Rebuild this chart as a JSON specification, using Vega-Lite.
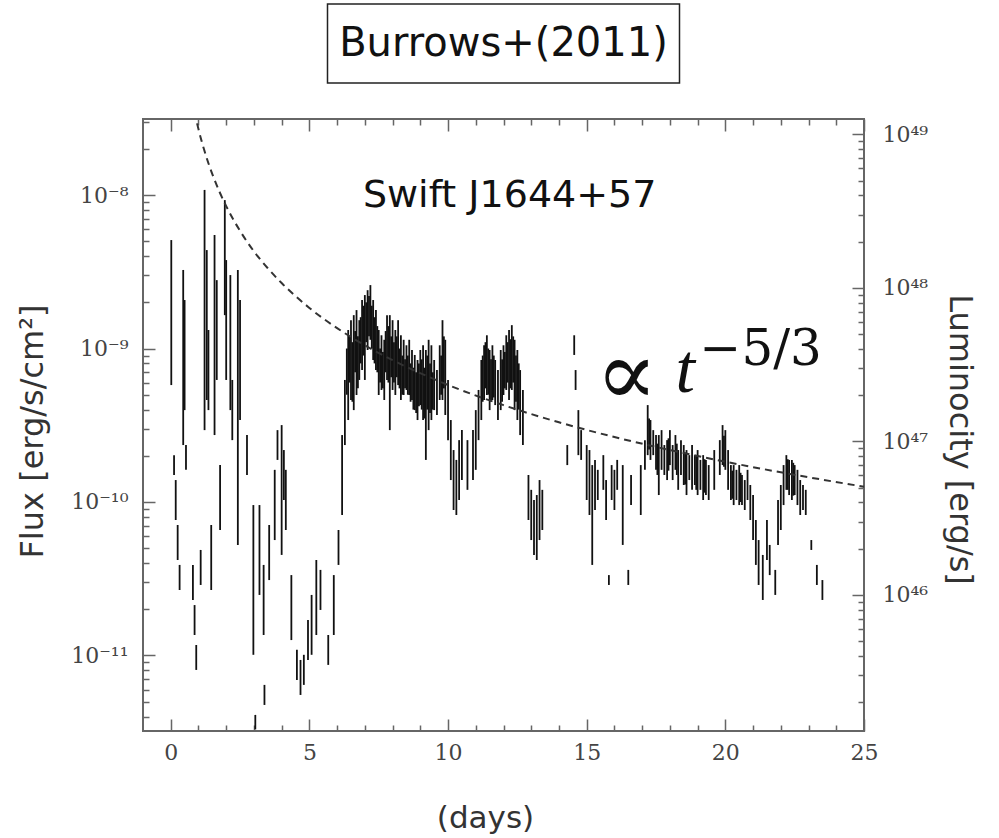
{
  "$schema": "https://vega.github.io/schema/vega-lite/v6.json",
  "padding": {"left": 15, "top": 3, "right": 5, "bottom": 5},
  "background": "white",
  "config": {"view": {"stroke": null}, "font": "DejaVu Sans"},
  "spacing": 36,
  "center": true,
  "bounds": "flush",
  "vconcat": [
    {
      "width": 352,
      "height": 79,
      "view": {"stroke": "#222", "strokeWidth": 1.5},
      "data": {"values": [{"label": "Burrows+(2011)"}]},
      "mark": {"type": "text", "font": "DejaVu Sans", "fontSize": 40, "color": "#111"},
      "encoding": {"text": {"field": "label"}}
    },
    {
      "width": 721,
      "height": 612,
      "view": {"stroke": "#666", "strokeWidth": 2},
      "resolve": {"scale": {"x": "independent", "y": "independent"}, "axis": {"x": "independent", "y": "independent"}},
      "layer": [
        {
          "data": {"values": [
            {"t":0.02,"hi":5.09e-9,"lo":5.78e-10},{"t":0.12,"hi":2.02e-10,"lo":1.5e-10},{"t":0.18,"hi":1.39e-10,"lo":7.63e-11},{"t":0.25,"hi":7.08e-11,"lo":4.19e-11},{"t":0.32,"hi":3.89e-11,"lo":2.67e-11},
            {"t":0.45,"hi":3.25e-9,"lo":2.35e-10},{"t":0.5,"hi":2.07e-9,"lo":3.97e-10},{"t":0.55,"hi":2.35e-10,"lo":1.62e-10},{"t":0.8,"hi":3.89e-11,"lo":2.3e-11},{"t":0.86,"hi":2.13e-11,"lo":1.36e-11},
            {"t":0.92,"hi":1.17e-11,"lo":8.05e-12},{"t":1.08,"hi":4.87e-11,"lo":2.88e-11},{"t":1.22,"hi":1.08e-8,"lo":2.94e-10},{"t":1.3,"hi":4.38e-9,"lo":4.62e-10},{"t":1.36,"hi":1.32e-9,"lo":3.97e-10},
            {"t":1.46,"hi":7.08e-11,"lo":2.67e-11},{"t":1.58,"hi":5.49e-9,"lo":2.73e-10},{"t":1.66,"hi":2.79e-9,"lo":6.24e-10},{"t":1.78,"hi":1.74e-10,"lo":6.57e-11},{"t":1.95,"hi":9.27e-9,"lo":1.65e-9},
            {"t":2.0,"hi":3.77e-9,"lo":6.24e-10},{"t":2.15,"hi":3.01e-9,"lo":3.97e-10},{"t":2.22,"hi":6.24e-10,"lo":2.53e-10},{"t":2.42,"hi":3.25e-9,"lo":5.25e-11},{"t":2.5,"hi":2.07e-9,"lo":3.42e-10},
            {"t":2.75,"hi":2.73e-10,"lo":1.5e-10},{"t":2.98,"hi":9.55e-11,"lo":1.01e-11},{"t":3.05,"hi":4.1e-12,"lo":3.3e-12},{"t":3.2,"hi":9.55e-11,"lo":2.48e-11},{"t":3.35,"hi":3.89e-11,"lo":1.36e-11},
            {"t":3.38,"hi":6.43e-12,"lo":4.76e-12},{"t":3.55,"hi":7.08e-11,"lo":3.1e-11},{"t":3.75,"hi":1.62e-10,"lo":5.65e-11},{"t":3.85,"hi":2.94e-10,"lo":1.88e-10},{"t":4.0,"hi":3.17e-10,"lo":4.52e-11},
            {"t":4.08,"hi":2.18e-10,"lo":1.03e-10},{"t":4.15,"hi":1.62e-10,"lo":6.57e-11},{"t":4.35,"hi":3.34e-11,"lo":1.26e-11},{"t":4.55,"hi":1.09e-11,"lo":6.92e-12},{"t":4.68,"hi":9.35e-12,"lo":5.53e-12},
            {"t":4.8,"hi":1.01e-11,"lo":6.43e-12},{"t":4.95,"hi":1.7e-11,"lo":9.35e-12},{"t":5.08,"hi":2.48e-11,"lo":1.01e-11},{"t":5.25,"hi":4.19e-11,"lo":1.36e-11},{"t":5.4,"hi":3.61e-11,"lo":1.98e-11},
            {"t":5.68,"hi":1.36e-11,"lo":8.68e-12},{"t":5.88,"hi":3.34e-11,"lo":1.36e-11},{"t":6.05,"hi":6.57e-11,"lo":3.89e-11},{"t":6.18,"hi":2.73e-10,"lo":8.23e-11},{"t":6.28,"hi":6.24e-10,"lo":2.35e-10},
            {"t":6.4,"hi":1.32e-9,"lo":3.42e-10},{"t":6.5,"hi":1.53e-9,"lo":4.62e-10},{"t":6.6,"hi":1.65e-9,"lo":3.97e-10},{"t":6.7,"hi":1.78e-9,"lo":4.98e-10},{"t":6.8,"hi":1.53e-9,"lo":6.24e-10},
            {"t":6.9,"hi":2.07e-9,"lo":7.24e-10},{"t":7.0,"hi":2.23e-9,"lo":6.24e-10},{"t":7.1,"hi":2.4e-9,"lo":9.78e-10},{"t":7.2,"hi":2.59e-9,"lo":1.14e-9},{"t":7.3,"hi":2.07e-9,"lo":8.42e-10},
            {"t":7.4,"hi":1.78e-9,"lo":7.24e-10},{"t":7.5,"hi":1.32e-9,"lo":4.98e-10},{"t":7.6,"hi":1.22e-9,"lo":5.37e-10},{"t":7.7,"hi":1.14e-9,"lo":4.62e-10},{"t":7.8,"hi":1.65e-9,"lo":6.24e-10},
            {"t":7.9,"hi":1.65e-9,"lo":2.94e-10},{"t":8.0,"hi":1.53e-9,"lo":5.37e-10},{"t":8.1,"hi":1.32e-9,"lo":4.98e-10},{"t":8.2,"hi":1.53e-9,"lo":5.78e-10},{"t":8.3,"hi":1.22e-9,"lo":4.62e-10},
            {"t":8.4,"hi":1.14e-9,"lo":4.98e-10},{"t":8.5,"hi":1.05e-9,"lo":5.37e-10},{"t":8.6,"hi":1.14e-9,"lo":4.98e-10},{"t":8.7,"hi":9.78e-10,"lo":4.62e-10},{"t":8.8,"hi":9.08e-10,"lo":3.97e-10},
            {"t":8.9,"hi":8.42e-10,"lo":3.42e-10},{"t":9.0,"hi":9.78e-10,"lo":4.28e-10},{"t":9.1,"hi":1.05e-9,"lo":3.42e-10},{"t":9.2,"hi":9.78e-10,"lo":1.88e-10},{"t":9.3,"hi":1.14e-9,"lo":2.94e-10},
            {"t":9.4,"hi":1.05e-9,"lo":3.42e-10},{"t":9.5,"hi":8.42e-10,"lo":3.97e-10},{"t":9.6,"hi":7.24e-10,"lo":3.69e-10},{"t":9.7,"hi":1.05e-9,"lo":4.62e-10},{"t":9.8,"hi":1.53e-9,"lo":4.62e-10},
            {"t":9.9,"hi":1.14e-9,"lo":3.69e-10},{"t":10.0,"hi":6.24e-10,"lo":2.53e-10},{"t":10.1,"hi":3.42e-10,"lo":1.39e-10},{"t":10.2,"hi":2.18e-10,"lo":8.87e-11},{"t":10.3,"hi":1.88e-10,"lo":8.23e-11},
            {"t":10.4,"hi":2.53e-10,"lo":1.03e-10},{"t":10.5,"hi":2.94e-10,"lo":1.39e-10},{"t":10.7,"hi":2.53e-10,"lo":1.2e-10},{"t":10.9,"hi":2.94e-10,"lo":1.39e-10},{"t":11.0,"hi":3.97e-10,"lo":1.62e-10},
            {"t":11.1,"hi":5.37e-10,"lo":2.53e-10},{"t":11.2,"hi":8.42e-10,"lo":3.42e-10},{"t":11.3,"hi":1.05e-9,"lo":4.62e-10},{"t":11.4,"hi":1.22e-9,"lo":4.98e-10},{"t":11.5,"hi":9.78e-10,"lo":3.97e-10},
            {"t":11.6,"hi":1.05e-9,"lo":4.62e-10},{"t":11.7,"hi":8.42e-10,"lo":4.28e-10},{"t":11.8,"hi":7.24e-10,"lo":3.42e-10},{"t":11.9,"hi":9.78e-10,"lo":3.97e-10},{"t":12.0,"hi":1.05e-9,"lo":4.98e-10},
            {"t":12.1,"hi":1.22e-9,"lo":5.37e-10},{"t":12.2,"hi":1.32e-9,"lo":4.62e-10},{"t":12.3,"hi":1.42e-9,"lo":5.37e-10},{"t":12.4,"hi":1.14e-9,"lo":3.97e-10},{"t":12.5,"hi":9.78e-10,"lo":3.42e-10},
            {"t":12.6,"hi":7.24e-10,"lo":2.73e-10},{"t":12.7,"hi":5.37e-10,"lo":2.35e-10},
            {"t":6.35,"hi":1.0e-9,"lo":5.0e-10},{"t":6.45,"hi":1.2e-9,"lo":6.0e-10},{"t":6.55,"hi":1.1e-9,"lo":4.5e-10},{"t":6.65,"hi":1.3e-9,"lo":7.0e-10},{"t":6.75,"hi":1.2e-9,"lo":5.5e-10},
            {"t":6.85,"hi":1.6e-9,"lo":8.0e-10},{"t":6.95,"hi":1.9e-9,"lo":9.0e-10},{"t":7.05,"hi":2.0e-9,"lo":1.1e-9},{"t":7.15,"hi":2.2e-9,"lo":1.2e-9},{"t":7.25,"hi":1.9e-9,"lo":1.0e-9},
            {"t":7.35,"hi":1.6e-9,"lo":8.0e-10},{"t":7.45,"hi":1.4e-9,"lo":7.0e-10},{"t":7.55,"hi":1.0e-9,"lo":6.0e-10},{"t":7.65,"hi":9.5e-10,"lo":5.5e-10},{"t":7.75,"hi":1.3e-9,"lo":7.0e-10},
            {"t":7.85,"hi":1.4e-9,"lo":6.0e-10},{"t":7.95,"hi":1.2e-9,"lo":6.5e-10},{"t":8.05,"hi":1.1e-9,"lo":6.0e-10},{"t":8.15,"hi":1.2e-9,"lo":6.5e-10},{"t":8.25,"hi":1.0e-9,"lo":5.5e-10},
            {"t":8.35,"hi":9.0e-10,"lo":5.0e-10},{"t":8.45,"hi":8.5e-10,"lo":5.5e-10},{"t":8.55,"hi":9.0e-10,"lo":5.0e-10},{"t":8.65,"hi":8.0e-10,"lo":4.5e-10},{"t":8.75,"hi":7.5e-10,"lo":4.0e-10},
            {"t":8.85,"hi":7.0e-10,"lo":3.8e-10},{"t":8.95,"hi":8.0e-10,"lo":4.2e-10},{"t":9.05,"hi":8.5e-10,"lo":4.0e-10},{"t":9.15,"hi":7.5e-10,"lo":3.5e-10},{"t":9.25,"hi":9.0e-10,"lo":4.0e-10},
            {"t":9.35,"hi":8.0e-10,"lo":3.8e-10},{"t":9.45,"hi":7.0e-10,"lo":4.0e-10},{"t":9.75,"hi":9.0e-10,"lo":5.0e-10},{"t":9.85,"hi":1.2e-9,"lo":5.5e-10},
            {"t":11.25,"hi":9.0e-10,"lo":4.5e-10},{"t":11.35,"hi":1.1e-9,"lo":5.5e-10},{"t":11.45,"hi":1.0e-9,"lo":5.0e-10},{"t":11.55,"hi":8.5e-10,"lo":4.5e-10},{"t":11.65,"hi":9.0e-10,"lo":4.8e-10},
            {"t":11.95,"hi":8.5e-10,"lo":4.5e-10},{"t":12.05,"hi":9.5e-10,"lo":5.5e-10},{"t":12.15,"hi":1.1e-9,"lo":6.0e-10},{"t":12.25,"hi":1.15e-9,"lo":5.5e-10},{"t":12.35,"hi":1.2e-9,"lo":6.0e-10},
            {"t":12.45,"hi":9.0e-10,"lo":4.5e-10},{"t":12.55,"hi":8.0e-10,"lo":4.0e-10},
            {"t":12.9,"hi":1.5e-10,"lo":7.63e-11},{"t":13.0,"hi":1.2e-10,"lo":5.65e-11},{"t":13.1,"hi":1.03e-10,"lo":4.52e-11},{"t":13.2,"hi":1.11e-10,"lo":4.19e-11},{"t":13.3,"hi":1.39e-10,"lo":5.65e-11},{"t":13.4,"hi":1.2e-10,"lo":6.57e-11},
            {"t":14.3,"hi":2.35e-10,"lo":1.74e-10},{"t":14.55,"hi":1.22e-9,"lo":9.08e-10},{"t":14.6,"hi":7.24e-10,"lo":5.37e-10},{"t":14.7,"hi":3.97e-10,"lo":2.02e-10},{"t":14.8,"hi":2.94e-10,"lo":1.88e-10},
            {"t":15.0,"hi":2.35e-10,"lo":1.03e-10},{"t":15.1,"hi":2.18e-10,"lo":8.23e-11},{"t":15.2,"hi":1.74e-10,"lo":3.89e-11},{"t":15.3,"hi":1.88e-10,"lo":8.87e-11},{"t":15.4,"hi":1.62e-10,"lo":1.03e-10},
            {"t":15.6,"hi":2.02e-10,"lo":1.2e-10},{"t":15.7,"hi":1.39e-10,"lo":7.63e-11},{"t":15.8,"hi":3.34e-11,"lo":2.88e-11},{"t":15.9,"hi":1.74e-10,"lo":1.03e-10},{"t":16.0,"hi":1.62e-10,"lo":8.87e-11},
            {"t":16.1,"hi":1.88e-10,"lo":1.2e-10},{"t":16.3,"hi":1.74e-10,"lo":5.25e-11},{"t":16.5,"hi":3.61e-11,"lo":2.88e-11},{"t":16.6,"hi":1.5e-10,"lo":9.55e-11},{"t":16.95,"hi":1.74e-10,"lo":8.23e-11},
            {"t":17.1,"hi":2.53e-10,"lo":1.62e-10},{"t":17.2,"hi":4.28e-10,"lo":2.02e-10},{"t":17.3,"hi":3.42e-10,"lo":1.88e-10},{"t":17.4,"hi":2.94e-10,"lo":2.02e-10},{"t":17.5,"hi":2.73e-10,"lo":1.62e-10},
            {"t":17.6,"hi":2.73e-10,"lo":1.11e-10},{"t":17.7,"hi":2.94e-10,"lo":1.62e-10},{"t":17.8,"hi":2.35e-10,"lo":1.5e-10},{"t":17.9,"hi":2.53e-10,"lo":1.39e-10},{"t":18.0,"hi":2.94e-10,"lo":1.74e-10},
            {"t":18.1,"hi":2.35e-10,"lo":1.39e-10},{"t":18.2,"hi":2.73e-10,"lo":1.62e-10},{"t":18.3,"hi":2.18e-10,"lo":1.2e-10},{"t":18.4,"hi":2.53e-10,"lo":1.5e-10},{"t":18.5,"hi":2.35e-10,"lo":1.29e-10},
            {"t":18.6,"hi":2.18e-10,"lo":1.11e-10},{"t":18.7,"hi":2.02e-10,"lo":1.39e-10},{"t":18.8,"hi":2.35e-10,"lo":1.2e-10},{"t":18.9,"hi":2.02e-10,"lo":1.29e-10},{"t":19.0,"hi":2.18e-10,"lo":1.11e-10},
            {"t":19.1,"hi":1.88e-10,"lo":1.2e-10},{"t":19.2,"hi":2.02e-10,"lo":1.03e-10},{"t":19.3,"hi":1.88e-10,"lo":1.11e-10},{"t":19.4,"hi":1.74e-10,"lo":1.03e-10},{"t":19.6,"hi":2.18e-10,"lo":1.2e-10},
            {"t":19.8,"hi":2.53e-10,"lo":1.5e-10},{"t":19.9,"hi":3.17e-10,"lo":1.74e-10},{"t":20.0,"hi":2.94e-10,"lo":1.62e-10},{"t":20.1,"hi":2.18e-10,"lo":1.2e-10},{"t":20.2,"hi":1.74e-10,"lo":1.03e-10},
            {"t":20.3,"hi":1.74e-10,"lo":9.55e-11},{"t":20.4,"hi":1.62e-10,"lo":1.03e-10},{"t":20.5,"hi":1.74e-10,"lo":9.55e-11},{"t":20.6,"hi":1.5e-10,"lo":9.55e-11},{"t":20.7,"hi":1.39e-10,"lo":8.87e-11},
            {"t":20.8,"hi":1.62e-10,"lo":1.03e-10},{"t":20.9,"hi":1.29e-10,"lo":7.63e-11},{"t":21.0,"hi":1.11e-10,"lo":5.65e-11},{"t":21.1,"hi":7.63e-11,"lo":3.89e-11},{"t":21.2,"hi":5.65e-11,"lo":2.88e-11},
            {"t":21.35,"hi":4.52e-11,"lo":2.3e-11},{"t":21.5,"hi":7.63e-11,"lo":4.19e-11},{"t":21.6,"hi":5.25e-11,"lo":3.34e-11},{"t":21.8,"hi":3.61e-11,"lo":2.48e-11},{"t":21.9,"hi":1.03e-10,"lo":5.25e-11},
            {"t":22.0,"hi":1.29e-10,"lo":6.57e-11},{"t":22.1,"hi":1.74e-10,"lo":9.55e-11},{"t":22.2,"hi":2.02e-10,"lo":1.2e-10},{"t":22.3,"hi":1.88e-10,"lo":1.11e-10},{"t":22.4,"hi":1.88e-10,"lo":1.03e-10},
            {"t":22.5,"hi":1.74e-10,"lo":1.11e-10},{"t":22.6,"hi":1.62e-10,"lo":9.55e-11},{"t":22.7,"hi":1.39e-10,"lo":8.23e-11},{"t":22.8,"hi":1.29e-10,"lo":8.87e-11},{"t":22.9,"hi":1.2e-10,"lo":8.23e-11},
            {"t":17.25,"hi":3.5e-10,"lo":2.2e-10},{"t":17.55,"hi":2.4e-10,"lo":1.5e-10},{"t":17.95,"hi":2.6e-10,"lo":1.6e-10},{"t":18.25,"hi":2.4e-10,"lo":1.5e-10},{"t":18.55,"hi":2.1e-10,"lo":1.3e-10},
            {"t":18.95,"hi":2.0e-10,"lo":1.2e-10},{"t":19.25,"hi":1.9e-10,"lo":1.15e-10},{"t":19.95,"hi":2.7e-10,"lo":1.7e-10},{"t":20.25,"hi":1.6e-10,"lo":1.05e-10},{"t":20.55,"hi":1.55e-10,"lo":1.0e-10},
            {"t":22.25,"hi":1.9e-10,"lo":1.2e-10},{"t":22.45,"hi":1.8e-10,"lo":1.1e-10},
            {"t":23.1,"hi":5.65e-11,"lo":4.87e-11},{"t":23.3,"hi":3.89e-11,"lo":2.88e-11},{"t":23.5,"hi":3.1e-11,"lo":2.3e-11}
          ]},
          "mark": {"type": "rule", "color": "#111", "strokeWidth": 1.8, "clip": true},
          "encoding": {
            "x": {"field": "t", "type": "quantitative",
              "scale": {"domain": [-1, 25], "nice": false, "zero": false},
              "axis": {"orient": "bottom", "values": [0,1,2,3,4,5,6,7,8,9,10,11,12,13,14,15,16,17,18,19,20,21,22,23,24,25],
                "ticks": false, "tickSize": 0, "domain": false,
                "grid": true, "gridColor": "#666", "gridWidth": 1.5, "gridOpacity": 1,
                "gridDash": {"condition": {"test": "datum.value % 5 === 0", "value": [12, 588, 12, 0]}, "value": [6, 600, 6, 0]},
                "labelFont": "DejaVu Serif", "labelFontSize": 22, "labelColor": "#444",
                "labelPadding": 11, "labelFlush": false, "labelOverlap": false,
                "labelExpr": "datum.value % 5 === 0 ? datum.label : ''",
                "title": "(days)", "titleFont": "DejaVu Sans", "titleFontSize": 31, "titleFontWeight": "normal", "titleColor": "#333", "titlePadding": 40, "titleX": 342, "titleAlign": "center"}},
            "y": {"field": "hi", "type": "quantitative",
              "scale": {"type": "log", "domain": [3.22e-12, 3.13e-8], "nice": false},
              "axis": {"orient": "left",
                "values": [4e-12,5e-12,6e-12,7e-12,8e-12,9e-12,1e-11,2e-11,3e-11,4e-11,5e-11,6e-11,7e-11,8e-11,9e-11,1e-10,2e-10,3e-10,4e-10,5e-10,6e-10,7e-10,8e-10,9e-10,1e-9,2e-9,3e-9,4e-9,5e-9,6e-9,7e-9,8e-9,9e-9,1e-8,2e-8,3e-8],
                "ticks": false, "tickSize": 0, "domain": false,
                "grid": true, "gridColor": "#666", "gridWidth": 1.5, "gridOpacity": 1,
                "gridDash": {"condition": {"test": "abs(log(datum.value)/LN10 - round(log(datum.value)/LN10)) < 0.01", "value": [12, 2000]}, "value": [6, 2000]},
                "labelFont": "DejaVu Serif", "labelFontSize": 22, "labelColor": "#444",
                "labelPadding": 15, "labelOverlap": false, "labelFlush": false,
                "labelExpr": "abs(log(datum.value)/LN10 - round(log(datum.value)/LN10)) < 0.01 ? (datum.value < 3e-11 ? '10⁻¹¹' : datum.value < 3e-10 ? '10⁻¹⁰' : datum.value < 3e-9 ? '10⁻⁹' : '10⁻⁸') : ''",
                "title": "Flux [erg/s/cm²]", "titleFont": "DejaVu Sans", "titleFontSize": 32, "titleFontWeight": "normal", "titleColor": "#333", "titlePadding": 21, "titleY": 312, "titleAlign": "center"}},
            "y2": {"field": "lo"}
          }
        },
        {
          "data": {"values": [{"t": 6.93, "flux": 8.35e-9, "label": "Swift J1644+57"}]},
          "mark": {"type": "text", "align": "left", "baseline": "alphabetic", "font": "DejaVu Sans", "fontSize": 38, "color": "#111"},
          "encoding": {
            "x": {"field": "t", "type": "quantitative",
              "scale": {"domain": [-1, 25], "nice": false, "zero": false}, "axis": null},
            "y": {"field": "flux", "type": "quantitative",
              "scale": {"type": "log", "domain": [3.22e-12, 3.13e-8], "nice": false}, "axis": null},
            "text": {"field": "label"}
          }
        },
        {
          "data": {"values": [{"t": 15.32, "flux": 4.28e-10, "label": "∝"}]},
          "mark": {"type": "text", "align": "left", "baseline": "alphabetic", "font": "DejaVu Serif", "fontSize": 92, "color": "#111"},
          "encoding": {
            "x": {"field": "t", "type": "quantitative",
              "scale": {"domain": [-1, 25], "nice": false, "zero": false}, "axis": null},
            "y": {"field": "flux", "type": "quantitative",
              "scale": {"type": "log", "domain": [3.22e-12, 3.13e-8], "nice": false}, "axis": null},
            "text": {"field": "label"}
          }
        },
        {
          "data": {"values": [{"t": 18.2, "flux": 5.2e-10, "label": "t"}]},
          "mark": {"type": "text", "align": "left", "baseline": "alphabetic", "font": "Liberation Serif", "fontStyle": "italic", "fontSize": 70, "color": "#111"},
          "encoding": {
            "x": {"field": "t", "type": "quantitative",
              "scale": {"domain": [-1, 25], "nice": false, "zero": false}, "axis": null},
            "y": {"field": "flux", "type": "quantitative",
              "scale": {"type": "log", "domain": [3.22e-12, 3.13e-8], "nice": false}, "axis": null},
            "text": {"field": "label"}
          }
        },
        {
          "data": {"values": [{"t": 19.07, "flux": 7.81e-10, "label": "−5/3"}]},
          "mark": {"type": "text", "align": "left", "baseline": "alphabetic", "font": "DejaVu Serif", "fontSize": 50, "color": "#111"},
          "encoding": {
            "x": {"field": "t", "type": "quantitative",
              "scale": {"domain": [-1, 25], "nice": false, "zero": false}, "axis": null},
            "y": {"field": "flux", "type": "quantitative",
              "scale": {"type": "log", "domain": [3.22e-12, 3.13e-8], "nice": false}, "axis": null},
            "text": {"field": "label"}
          }
        },
        {
          "data": {"values": [
            {"t":0.95,"flux":2.93e-8,"lum":1.179e49},{"t":1,"flux":2.69e-8,"lum":1.082e49},{"t":1.1,"flux":2.295e-8,"lum":9.23e48},{"t":1.2,"flux":1.985e-8,"lum":7.99e48},
            {"t":1.35,"flux":1.631e-8,"lum":6.56e48},{"t":1.5,"flux":1.369e-8,"lum":5.51e48},{"t":1.75,"flux":1.058e-8,"lum":4.26e48},{"t":2,"flux":8.47e-9,"lum":3.41e48},
            {"t":2.5,"flux":5.84e-9,"lum":2.35e48},{"t":3,"flux":4.31e-9,"lum":1.73e48},{"t":3.5,"flux":3.333e-9,"lum":1.341e48},{"t":4,"flux":2.67e-9,"lum":1.074e48},
            {"t":5,"flux":1.84e-9,"lum":7.4e47},{"t":6,"flux":1.358e-9,"lum":5.46e47},{"t":7,"flux":1.05e-9,"lum":4.22e47},{"t":8,"flux":8.41e-10,"lum":3.38e47},
            {"t":10,"flux":5.79e-10,"lum":2.33e47},{"t":12,"flux":4.28e-10,"lum":1.72e47},{"t":14,"flux":3.31e-10,"lum":1.33e47},{"t":16,"flux":2.65e-10,"lum":1.066e47},
            {"t":18,"flux":2.18e-10,"lum":8.77e46},{"t":20,"flux":1.83e-10,"lum":7.36e46},{"t":22,"flux":1.56e-10,"lum":6.28e46},{"t":25,"flux":1.259e-10,"lum":5.06e46}
          ]},
          "mark": {"type": "line", "color": "#333", "strokeWidth": 2, "strokeDash": [7, 5], "interpolate": "monotone"},
          "encoding": {
            "x": {"field": "t", "type": "quantitative",
              "scale": {"domain": [-1, 25], "nice": false, "zero": false}, "axis": null},
            "y": {"field": "lum", "type": "quantitative",
              "scale": {"type": "log", "domain": [1.2954e45, 1.2592e49], "nice": false},
              "axis": {"orient": "right",
                "values": [2e45,3e45,4e45,5e45,6e45,7e45,8e45,9e45,1e46,2e46,3e46,4e46,5e46,6e46,7e46,8e46,9e46,1e47,2e47,3e47,4e47,5e47,6e47,7e47,8e47,9e47,1e48,2e48,3e48,4e48,5e48,6e48,7e48,8e48,9e48,1e49],
                "ticks": false, "tickSize": 0, "domain": false,
                "grid": true, "gridColor": "#666", "gridWidth": 1.5, "gridOpacity": 1,
                "gridDash": {"condition": {"test": "abs(log(datum.value)/LN10 - round(log(datum.value)/LN10)) < 0.01", "value": [12, 2000]}, "value": [6, 2000]},
                "labelFont": "DejaVu Serif", "labelFontSize": 22, "labelColor": "#444",
                "labelPadding": 18, "labelOverlap": false, "labelFlush": false,
                "labelExpr": "abs(log(datum.value)/LN10 - round(log(datum.value)/LN10)) < 0.01 ? (datum.value < 3e46 ? '10⁴⁶' : datum.value < 3e47 ? '10⁴⁷' : datum.value < 3e48 ? '10⁴⁸' : '10⁴⁹') : ''",
                "title": "Luminocity [erg/s]", "titleFont": "DejaVu Sans", "titleFontSize": 32, "titleFontWeight": "normal", "titleColor": "#333", "titlePadding": 15, "titleY": 320, "titleAlign": "center"}}
          }
        }
      ]
    }
  ]
}
